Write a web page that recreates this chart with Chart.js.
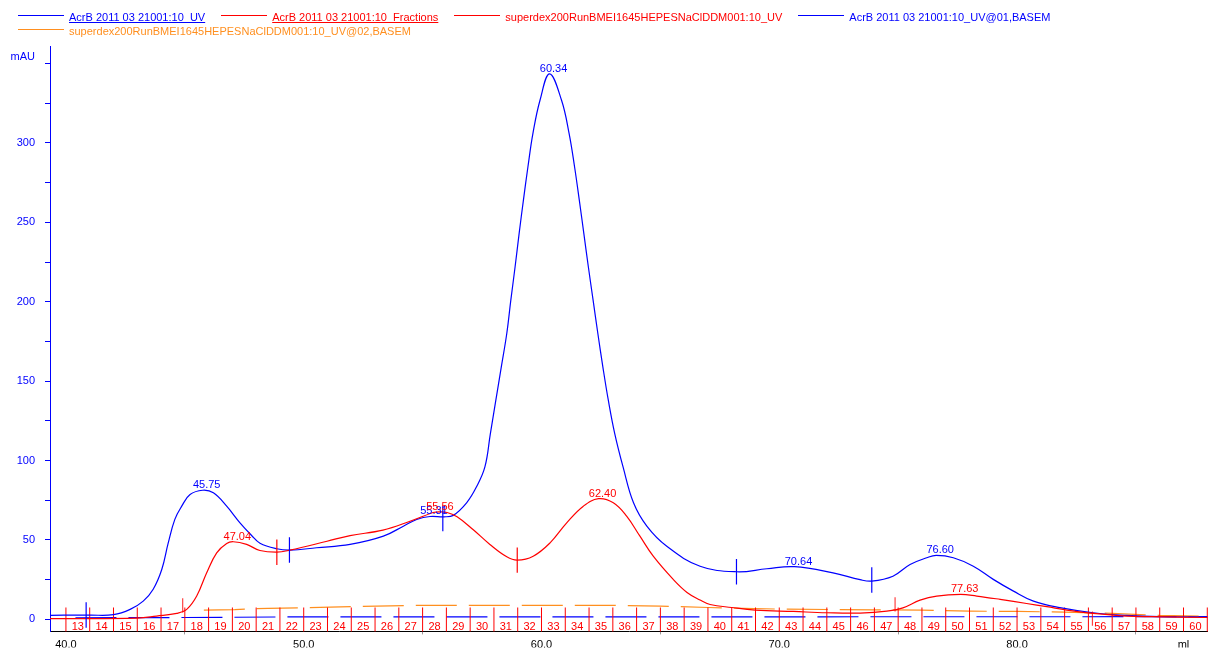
<!DOCTYPE html>
<html>
<head>
<meta charset="utf-8">
<script src="https://cdn.jsdelivr.net/npm/chart.js@4.4.1/dist/chart.umd.min.js"></script>
<style>
  body { margin: 0; background: #fff; }
  #wrap { position: relative; width: 1208px; height: 648px; }
  #legend {
    position: absolute; left: 18px; top: 10px; width: 1180px;
    display: flex; flex-wrap: wrap; column-gap: 16px;
    font: 11px "Liberation Sans", Arial, sans-serif; line-height: 14px;
  }
  .item { display: flex; align-items: center; white-space: nowrap; }
  .item .ln { display: block; width: 46px; height: 0; margin-right: 5px; margin-top: -3px; border-top: 1px solid; }
  .item.u .tx { text-decoration: underline; }
</style>
</head>
<body>
<div id="wrap">
  <canvas id="chart" width="1208" height="648"></canvas>
  <div id="legend"></div>
</div>
<script>
// Colores de las curvas
const BLUE = "#0000ff";
const RED = "#ff0000";
const ORANGE = "#ff8f1f";

// Curva UV AcrB (ml, mAU)
const uvVolume = [39.33, 40.5, 41.0, 42.0, 42.7, 43.25, 43.67, 44.03, 44.3, 44.58, 44.87, 45.22, 45.75,
  46.2, 46.76, 47.32, 47.8, 48.16, 48.86, 49.42, 50.54, 51.95, 53.35, 54.19, 54.75, 55.31, 55.9,
  56.29, 56.85, 57.25, 57.62, 57.85, 58.08, 58.31, 58.54, 58.71, 58.89, 59.06, 59.24, 59.43, 59.64, 59.94,
  60.34, 60.84, 61.16, 61.39, 61.59, 61.78, 61.97, 62.17, 62.37, 62.58, 62.81, 63.08, 63.43, 63.87,
  64.43, 65.27, 66.67, 68.22, 69.48, 70.64, 72.26, 73.4, 73.89, 74.78, 75.50, 76.2, 76.6, 77.32,
  78.16, 79.0, 79.85, 80.69, 81.8, 83.2, 84.6, 86.0, 88.0];
const uvAbs = [2.6, 2.7, 2.7, 3.0, 6.3, 11.5, 19, 31.4, 48, 63, 71.3, 78.6, 81.3,
  79.7, 71.3, 60.8, 53, 48, 44.5, 43.6, 45.1, 47.2, 52.4, 58.7, 62.9, 64.8, 64.6,
  65.5, 73.4, 83, 96, 117, 138, 159, 180, 201, 222, 243, 264, 285, 306, 327,
  343.5, 327, 306, 285, 264, 243, 222, 201, 180, 159, 138, 117, 96, 73.4,
  58.7, 46, 33.5, 30, 31.9, 33.2, 29.3, 25, 24.1, 27.2, 34.6, 38.8, 40.3, 38.8,
  33.5, 25.2, 17.8, 11.5, 7.4, 4.2, 2.5, 1.7, 1.5];

// Curva UV superdex200
const sdxVolume = [39.33, 43.0, 43.81, 44.66, 45.08, 45.5, 45.92, 46.34, 46.76, 47.04, 47.6, 48.16,
  48.87, 49.42, 50.98, 51.95, 53.33, 54.47, 55.44, 55.56, 56.03, 56.45, 57.12, 57.83, 58.54, 58.98,
  59.65, 60.36, 61.06, 61.76, 62.40, 63.02, 63.58, 64.14, 64.70, 65.54, 66.12, 66.67, 67.09, 68.0,
  69.0, 70.6, 72.0, 73.4, 74.52, 75.2, 75.92, 76.62, 77.63, 78.3, 79.29, 80.4, 81.25, 82.09, 83.2,
  84.6, 85.7, 88.0];
const sdxAbs = [0.5, 0.8, 2.1, 3.8, 6.3, 14.7, 29.4, 41.9, 47.8, 48.9, 47.2, 43.4,
  42.3, 43.6, 49.2, 52.8, 56.2, 61.8, 67.3, 67.6, 67.3, 64.6, 56.6, 47.2, 39.4, 37.3,
  39.8, 48.2, 60.8, 71.3, 76, 73.4, 65, 52.4, 39.8, 25.2, 17, 12.2, 9.4, 7.5,
  5.9, 5.0, 4.2, 4.0, 5.2, 7.3, 12.1, 14.7, 15.7, 14.7, 12.6, 10, 8, 5.9, 3.8,
  2.1, 1.7, 1.2];

// Lineas base (BASEM)
const base1Volume = [40.4, 45.0, 50.0, 88.0];
const base1Abs = [1.0, 1.2, 1.6, 1.7];
const base2Volume = [45.8, 47.1, 48.5, 50.2, 52.0, 54.5, 63.0, 65.0, 67.0, 70.0, 74.0, 76.0, 78.0, 80.0, 82.0, 84.0, 86.0, 88.0];
const base2Abs = [5.9, 6.2, 7.0, 7.4, 8.0, 8.8, 8.8, 8.4, 7.5, 6.5, 6.0, 5.9, 5.2, 5.0, 4.6, 3.8, 2.5, 2.0];

// Fracciones
const fractionEdges = [40, 41, 42, 43, 44, 45, 46, 47, 48, 49, 50, 51, 52, 53, 54, 55, 56, 57, 58, 59,
  60, 61, 62, 63, 64, 65, 66, 67, 68, 69, 70, 71, 72, 73, 74, 75, 76, 77, 78, 79, 80, 81, 82, 83, 84,
  85, 86, 87, 88];
const fractionNames = ["13", "14", "15", "16", "17", "18", "19", "20", "21", "22", "23", "24", "25",
  "26", "27", "28", "29", "30", "31", "32", "33", "34", "35", "36", "37", "38", "39", "40", "41", "42",
  "43", "44", "45", "46", "47", "48", "49", "50", "51", "52", "53", "54", "55", "56", "57", "58", "59", "60"];

// Picos y cortes de integracion
const uvPeaks = [45.75, 55.31, 60.34, 70.64, 76.60];
const uvPeakAbs = [81.3, 64.8, 343.5, 33.2, 40.3];
const sdxPeaks = [47.04, 55.56, 62.40, 77.63];
const sdxPeakAbs = [48.9, 67.6, 76, 15.7];
const uvCuts = [40.85, 49.4, 55.85, 68.2, 73.89];
const uvCutAbs = [2.8, 43.7, 63.5, 30, 24.8];
const sdxCuts = [48.87, 58.98];
const sdxCutAbs = [42.3, 37.3];
const sdxMarks = [44.91, 74.87, 83.17];
const sdxMarkAbs = [8.8, 9.4, 0.5];

// Ejes
const yTicks = [0, 25, 50, 75, 100, 125, 150, 175, 200, 225, 250, 275, 300, 325, 350];
const xTicks = [40, 45, 50, 55, 60, 65, 70, 75, 80, 85, 87];
const yUnit = "mAU";
const xUnit = "ml";

const legendNames = [
  "AcrB 2011 03 21001:10_UV",
  "AcrB 2011 03 21001:10_Fractions",
  "superdex200RunBMEI1645HEPESNaClDDM001:10_UV",
  "AcrB 2011 03 21001:10_UV@01,BASEM",
  "superdex200RunBMEI1645HEPESNaClDDM001:10_UV@02,BASEM",
];
const legendColors = [BLUE, RED, RED, BLUE, ORANGE];

const FONT = '"Liberation Sans", Arial, sans-serif';

function toPoints(xs, ys) {
  return xs.map((v, i) => ({ x: v, y: ys[i] }));
}

// Segmentos verticales cortos separados por null
function vSegments(xs, centers, half) {
  const pts = [];
  xs.forEach((v, i) => {
    pts.push({ x: v, y: centers[i] - half }, { x: v, y: centers[i] + half }, { x: v, y: null });
  });
  return pts;
}

function fractionLines() {
  const pts = [];
  fractionEdges.forEach((e) => {
    pts.push({ x: e, y: -8 }, { x: e, y: 7.5 }, { x: e, y: null });
  });
  return pts;
}

// Leyenda
const legend = document.getElementById("legend");
legendNames.forEach((name, i) => {
  const item = document.createElement("div");
  item.className = "item" + (i < 2 ? " u" : "");
  item.style.color = legendColors[i];
  const line = document.createElement("div");
  line.className = "ln";
  line.style.borderTopColor = legendColors[i];
  const text = document.createElement("span");
  text.className = "tx";
  text.textContent = name;
  item.appendChild(line);
  item.appendChild(text);
  legend.appendChild(item);
});

const textPlugin = {
  id: "textPlugin",
  afterDatasetsDraw(chart) {
    const { ctx, scales: { x, y } } = chart;
    ctx.save();
    ctx.font = "11px " + FONT;
    ctx.textAlign = "center";
    ctx.textBaseline = "alphabetic";
    ctx.fillStyle = BLUE;
    uvPeaks.forEach((p, i) => {
      ctx.fillText(p.toFixed(2), x.getPixelForValue(p) + 4, y.getPixelForValue(uvPeakAbs[i]) - 2);
    });
    ctx.fillStyle = RED;
    sdxPeaks.forEach((p, i) => {
      ctx.fillText(p.toFixed(2), x.getPixelForValue(p) + 4, y.getPixelForValue(sdxPeakAbs[i]) - 2);
    });
    ctx.textBaseline = "middle";
    fractionNames.forEach((n, i) => {
      const cx = x.getPixelForValue((fractionEdges[i] + fractionEdges[i + 1]) / 2);
      ctx.fillText(n, cx, y.getPixelForValue(-5));
    });
    // unidad del eje y, un poco por encima del ultimo tick
    ctx.fillStyle = BLUE;
    ctx.textAlign = "right";
    ctx.fillText(yUnit, x.left - 15, y.getPixelForValue(yTicks[yTicks.length - 1]) - 7);
    ctx.restore();
  },
};

const lineBase = { borderWidth: 1.2, pointRadius: 0, fill: false, spanGaps: false };

new Chart(document.getElementById("chart"), {
  type: "line",
  data: {
    datasets: [
      { ...lineBase, label: "cortes sdx", data: vSegments(sdxCuts, sdxCutAbs, 8), borderColor: RED, tension: 0 },
      { ...lineBase, label: "marcas sdx", data: vSegments(sdxMarks, sdxMarkAbs, 4.5), borderColor: "rgba(255,0,0,0.75)", tension: 0 },
      { ...lineBase, label: "cortes uv", data: vSegments(uvCuts, uvCutAbs, 8), borderColor: BLUE, tension: 0 },
      { ...lineBase, label: legendNames[2], data: toPoints(sdxVolume, sdxAbs), borderColor: RED, tension: 0.4 },
      { ...lineBase, label: legendNames[0], data: toPoints(uvVolume, uvAbs), borderColor: BLUE, tension: 0.4 },
      { ...lineBase, label: legendNames[1], data: fractionLines(), borderColor: RED, borderWidth: 1, tension: 0 },
      { ...lineBase, label: legendNames[4], data: toPoints(base2Volume, base2Abs), borderColor: ORANGE, borderDash: [41, 12], tension: 0 },
      { ...lineBase, label: legendNames[3], data: toPoints(base1Volume, base1Abs), borderColor: BLUE, borderDash: [41, 12], tension: 0 },
    ],
  },
  options: {
    responsive: false,
    animation: false,
    events: [],
    layout: { padding: { top: 46, left: 0, right: 0, bottom: 0 } },
    plugins: { legend: { display: false }, tooltip: { enabled: false } },
    scales: {
      x: {
        type: "linear",
        min: 39.33,
        max: 88.03,
        afterBuildTicks: (s) => { s.ticks = xTicks.map((v) => ({ value: v })); },
        afterFit: (s) => { s.height = 16; },
        border: { color: "#000", width: 1 },
        grid: {
          drawOnChartArea: false,
          tickLength: 3,
          tickColor: (c) => (c.tick && c.tick.value % 10 === 5 ? "#999" : "rgba(0,0,0,0)"),
        },
        ticks: {
          autoSkip: false,
          maxRotation: 0,
          padding: 4,
          color: "#000",
          font: { family: FONT, size: 11 },
          callback: (v) => (v === 87 ? xUnit : v % 10 === 0 ? v.toFixed(1) : ""),
        },
      },
      y: {
        type: "linear",
        min: -7.55,
        max: 361,
        afterBuildTicks: (s) => { s.ticks = yTicks.map((v) => ({ value: v })); },
        afterFit: (s) => { s.width = 50; },
        border: { color: BLUE, width: 1 },
        grid: { drawOnChartArea: false, tickLength: 5, tickColor: BLUE },
        ticks: {
          autoSkip: false,
          padding: 10,
          color: BLUE,
          font: { family: FONT, size: 11 },
          callback: (v) => (v % 50 === 0 && v < 350 ? v : ""),
        },
      },
    },
  },
  plugins: [textPlugin],
});
</script>
</body>
</html>
